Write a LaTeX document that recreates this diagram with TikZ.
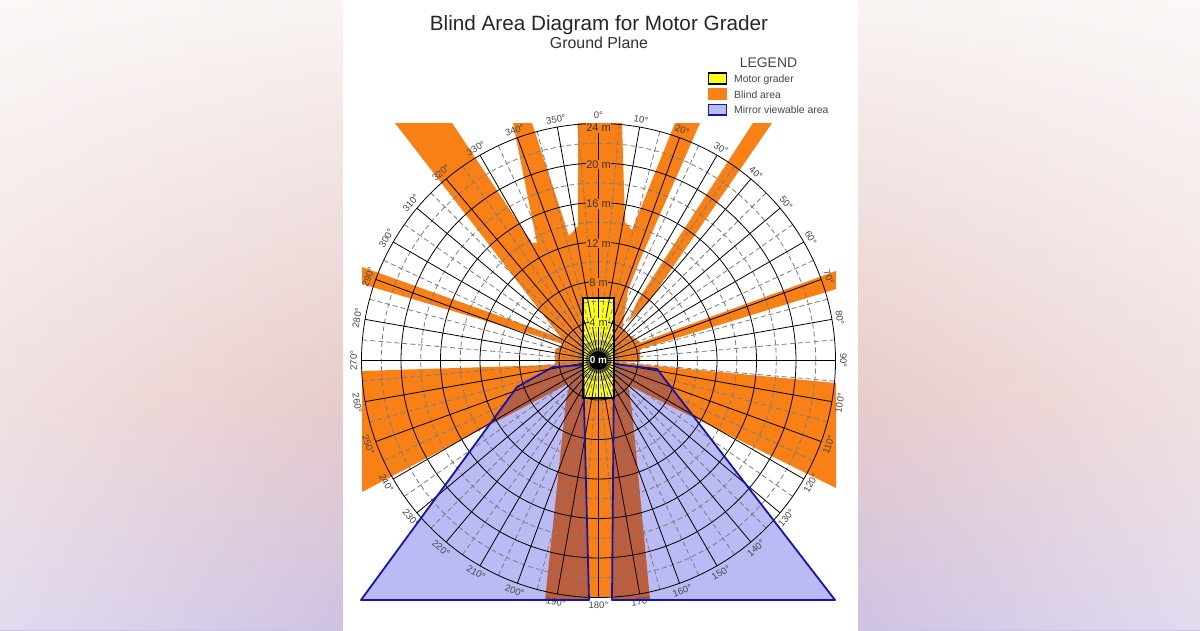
\documentclass[tikz,border=0pt]{standalone}
\usepackage{fontspec}
\setmainfont{Liberation Sans}
\usetikzlibrary{fadings}
\definecolor{blindc}{RGB}{248,128,20}
\definecolor{mirrorc}{RGB}{186,186,244}
\definecolor{brownc}{RGB}{186,94,62}
\definecolor{bluec}{RGB}{20,20,175}
\definecolor{graderc}{RGB}{255,255,20}
\definecolor{txtc}{RGB}{70,70,70}
\definecolor{gridd}{RGB}{125,125,125}
\definecolor{bgtop}{RGB}{249,244,242}
\definecolor{bgmid}{RGB}{232,204,204}
\definecolor{bgbot}{RGB}{207,195,228}
\pgfdeclareverticalshading{sidebg}{100bp}{color(0bp)=(bgbot); color(25bp)=(bgbot); color(43bp)=(bgmid); color(75bp)=(bgtop); color(100bp)=(bgtop)}
\tikzfading[name=fadeR, left color=transparent!0, right color=transparent!100]
\tikzfading[name=fadeL, left color=transparent!100, right color=transparent!0]
\begin{document}
\begin{tikzpicture}[x=1pt,y=-1pt,
  gsolid/.style={black, line width=0.8pt},
  gdash/.style={gridd, line width=0.8pt, dash pattern=on 5pt off 3pt},
  degl/.style={font=\fontsize{9.5}{11}\selectfont, text=txtc, inner sep=0pt},
  distl/.style={font=\fontsize{11}{13}\selectfont, text=black!80, inner sep=0.7pt},
  legt/.style={font=\fontsize{10.4}{12}\selectfont, text=txtc, anchor=base west, inner sep=0pt},
  mirrorline/.style={bluec, line width=1.8pt, line join=round},
  shT/.style={insert path={(395,123) -- (452,123) -- (532,243) -- (537,243) -- (513,123) -- (532,123) -- (569,236) -- (578,226) -- (578,123) -- (622,123) -- (625,222) -- (632,230) -- (675,123) -- (700,123) -- (640,260) -- (628,290) -- (622,330) -- (640,342) -- (640,362) -- (583,364) -- (555,366) -- (555,350) -- (565,343) -- cycle}},
  shE/.style={insert path={(753,123) -- (772,123) -- (648,303) -- (628,322) -- (638,300) -- cycle}},
  shF/.style={insert path={(836,271) -- (836,289) -- (641,349) -- (631,346) -- cycle}},
  shG/.style={insert path={(362,267) -- (567,340) -- (567,345) -- (362,284) -- cycle}},
  shJ/.style={insert path={(362,371) -- (583,364) -- (583,376) -- (362,492) -- cycle}},
  shH/.style={insert path={(614,362) -- (836,383) -- (836,488) -- (614,378) -- cycle}},
  shB/.style={insert path={(545,600) -- (589,600) -- (589,597) -- (612,597) -- (612,600) -- (650,600) -- (633,420) -- (627,375) -- (614,368) -- (583,368) -- (572,375) -- (566,400) -- (563,430) -- cycle}},
]
\useasboundingbox (0,0) rectangle (1200,630);
% page background
\shade[shading=sidebg] (0,0) rectangle (343,630);
\shade[shading=sidebg] (858,0) rectangle (1200,630);
\fill[white, path fading=fadeR, opacity=0.4] (0,0) rectangle (343,630);
\fill[white, path fading=fadeL, opacity=0.4] (858,0) rectangle (1200,630);
\fill[white] (343,0) rectangle (858,630);

% blind areas
\fill[blindc, shT];
\fill[blindc, shE];
\fill[blindc, shF];
\fill[blindc, shG];
\fill[blindc, shJ];
\fill[blindc, shH];
\fill[blindc, shB];

% mirror viewable areas
\fill[mirrorc] (361,600) -- (517,387) -- (553,367) -- (583,365) -- (589,600) -- cycle;
\fill[mirrorc] (612,600) -- (835,600) -- (657,369) -- (614,364) -- cycle;

% overlap of blind and mirror areas
\begin{scope}
  \clip (361,600) -- (517,387) -- (553,367) -- (583,365) -- (589,600) -- cycle
        (612,600) -- (835,600) -- (657,369) -- (614,364) -- cycle;
  \fill[brownc, shT];
  \fill[brownc, shJ];
  \fill[brownc, shH];
  \fill[brownc, shB];
\end{scope}

% motor grader body
\fill[graderc] (583,298) rectangle (614,398);

% polar grid
\begin{scope}[shift={(598.5,360.5)}]
  \foreach \r in {2,6,10,14,18,22} \draw[gdash] (0,0) circle ({\r*9.875});
  \foreach \a in {5,15,...,355} \draw[gdash] (0,0) -- ({\a-90}:237);
  \foreach \r in {4,8,...,24} \draw[gsolid] (0,0) circle ({\r*9.875});
  \foreach \a in {0,10,...,350} \draw[gsolid] (0,0) -- ({\a-90}:237);
  \foreach \a in {0,10,...,350}{
    \pgfmathsetmacro\rot{ifthenelse(and(\a>90,\a<270),180-\a,-\a)}
    \node[degl, rotate=\rot] (deg\a) at ({\a-90}:245) {\a{}°};
  }
\end{scope}

% mirror outlines
\draw[mirrorline] (361,600) -- (517,387) -- (553,367) -- (583,365) -- (589,600) -- cycle;
\draw[mirrorline] (612,600) -- (835,600) -- (657,369) -- (614,364) -- cycle;

% grader outline
\draw[black, line width=1.6pt] (583,298) rectangle (614,398);

% distance labels
\node[distl, fill=graderc] (d4) at (598.5,322.5) {4 m};
\node[distl, fill=blindc] (d8) at (598.5,283) {8 m};
\node[distl, fill=blindc] (d12) at (598.5,243.5) {12 m};
\node[distl, fill=blindc] (d16) at (598.5,204) {16 m};
\node[distl, fill=blindc] (d20) at (598.5,164.5) {20 m};
\node[distl, fill=blindc] (d24) at (598.5,128) {24 m};
\node[circle, fill=black, inner sep=0pt, minimum size=18pt, text=white,
      font=\bfseries\fontsize{10}{12}\selectfont] (zero) at (598.5,360.5) {0 m};

% titles
\node[anchor=base, font=\fontsize{20.7}{24}\selectfont, text=black!85, inner sep=0pt] (title) at (599,30) {Blind Area Diagram for Motor Grader};
\node[anchor=base, font=\fontsize{15.9}{19}\selectfont, text=black!80, inner sep=0pt] (subtitle) at (599,48.5) {Ground Plane};

% legend
\node[anchor=base, font=\fontsize{13.9}{16}\selectfont, text=txtc, inner sep=0pt] (legend) at (768.5,67) {LEGEND};
\draw[fill=graderc, draw=black, line width=1.5pt] (708.5,73) rectangle (726.5,84);
\fill[blindc] (708,88) rectangle (727,99.5);
\draw[fill=mirrorc, draw=bluec, line width=1.5pt] (708.5,104.5) rectangle (726.5,115);
\node[legt] (lg1) at (734,82.3) {Motor grader};
\node[legt] (lg2) at (734,98) {Blind area};
\node[legt] (lg3) at (734,113.7) {Mirror viewable area};
\end{tikzpicture}
\end{document}
